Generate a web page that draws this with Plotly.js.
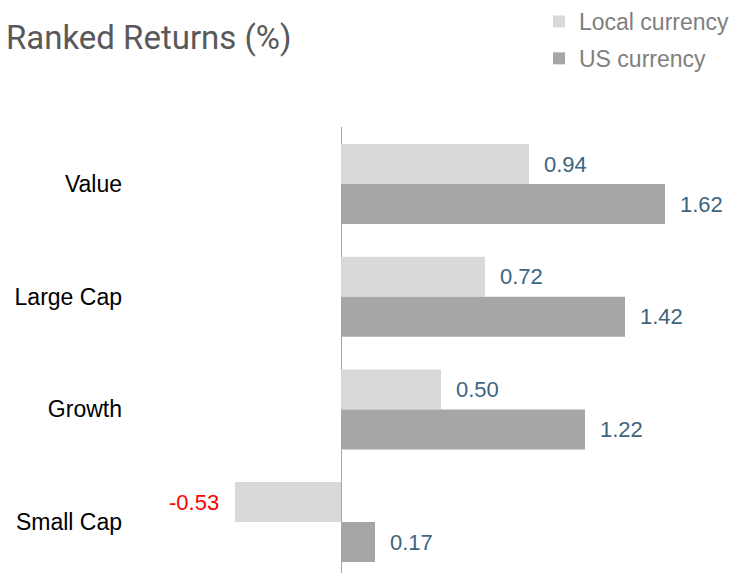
<!DOCTYPE html>
<html>
<head>
<meta charset="utf-8">
<script src="https://cdn.plot.ly/plotly-3.0.1.min.js"></script>
<style>html,body{margin:0;padding:0;background:#fff;}#chart{width:739px;height:573px;}</style>
</head>
<body>
<div id="chart"></div>
<script>
const categories = ["Value", "Large Cap", "Growth", "Small Cap"];
const localCurrency = [0.94, 0.72, 0.50, -0.53];
const usCurrency = [1.62, 1.42, 1.22, 0.17];
const seriesNames = ["Local currency", "US currency"];
const titleText = "Ranked Returns (%)";

const labelFont = "Liberation Sans, Arial, sans-serif";
const labelColor = "#3d6580";

function labelAnnots(vals, yshift) {
  return vals.map((v, i) => ({
    x: v, y: categories[i], xref: "x", yref: "y",
    text: v.toFixed(2), showarrow: false,
    xanchor: v < 0 ? "right" : "left",
    xshift: v < 0 ? -14 : 13, yshift: yshift,
    font: {family: labelFont, size: 22, color: v < 0 ? "#ff0000" : labelColor}
  }));
}

const traces = [
  {type: "bar", orientation: "h", name: seriesNames[0], x: localCurrency, y: categories,
   marker: {color: "#d9d9d9"}, legendgroup: "a", hoverinfo: "x"},
  {type: "bar", orientation: "h", name: seriesNames[1], x: usCurrency, y: categories,
   marker: {color: "#a6a6a6"}, legendgroup: "b", hoverinfo: "x"}
];

const layout = {
  width: 739, height: 573,
  margin: {l: 128, r: 0, t: 127, b: 0, autoexpand: false},
  paper_bgcolor: "#fff", plot_bgcolor: "#fff",
  barmode: "group", bargap: 0.29, bargroupgap: 0,
  title: {text: titleText, xref: "container", yref: "container", x: 0.008, xanchor: "left",
          y: 1 - 37/573, yanchor: "middle",
          font: {family: "Roboto, sans-serif", size: 33, color: "#595959"}},
  xaxis: {range: [-(341-128)/200, (739-341)/200], showgrid: false, showticklabels: false,
          zeroline: true, zerolinecolor: "#a6a6a6", zerolinewidth: 1, showline: false, ticks: ""},
  yaxis: {type: "category", range: [3.452, -0.506], showgrid: false, zeroline: false, showline: false,
          ticks: "", ticklabelstandoff: 5, tickfont: {family: labelFont, size: 23, color: "#000"}},
  showlegend: true,
  legend: {xref: "container", yref: "container", x: 539/739, xanchor: "left", y: 1, yanchor: "top",
           traceorder: "grouped", tracegroupgap: 4,
           font: {family: labelFont, size: 23, color: "#808080"}, bgcolor: "rgba(0,0,0,0)"},
  annotations: labelAnnots(localCurrency, 20).concat(labelAnnots(usCurrency, -20))
};

Plotly.newPlot("chart", traces, layout, {displayModeBar: false, staticPlot: true});
</script>
</body>
</html>
